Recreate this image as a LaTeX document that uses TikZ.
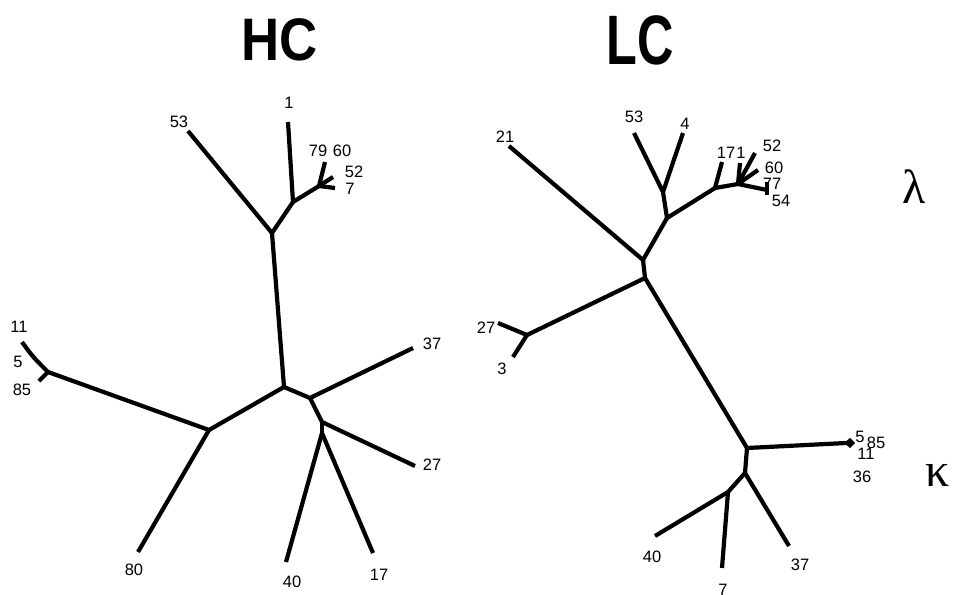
\documentclass[tikz,border=0pt]{standalone}
\usepackage{fontspec}
\setmainfont{Liberation Sans}
\newfontfamily\greekfont{Liberation Serif}
\begin{document}
\begin{tikzpicture}[x=1pt,y=-1pt,
  branch/.style={line width=4.2pt, line cap=butt, line join=round},
  lbl/.style={font=\fontsize{16.5}{16.5}\selectfont, inner sep=0pt},
  title/.style={font=\fontsize{60}{60}\selectfont\bfseries, inner sep=0pt},
  greek/.style={font=\fontsize{48}{48}\selectfont\greekfont, inner sep=0pt}]
\useasboundingbox (0,0) rectangle (955,594);
% ---------------- HC tree ----------------
\coordinate (h53) at (188,131);
\coordinate (hA) at (272,233);
\coordinate (hB) at (293,202);
\coordinate (h1) at (288,122);
\coordinate (hC) at (319,186);
\coordinate (h7960) at (325,162);
\coordinate (h52) at (333,177);
\coordinate (h7) at (335,188);
\coordinate (hD) at (284,387);
\coordinate (hE) at (209,430);
\coordinate (hF) at (48,372);
\coordinate (h11m) at (33,357);
\coordinate (h11) at (22,342);
\coordinate (h85) at (39,381);
\coordinate (h80) at (138,552);
\coordinate (hG) at (310,398);
\coordinate (h37) at (413,348);
\coordinate (hH) at (322,422);
\coordinate (h27) at (415,466);
\coordinate (hI) at (322,433);
\coordinate (h40) at (286,562);
\coordinate (h17) at (373,553);
\draw[branch] (hA) -- (h53);
\draw[branch] (hA) -- (hB);
\draw[branch] (hB) -- (h1);
\draw[branch] (hB) -- (hC);
\draw[branch] (hC) -- (h7960);
\draw[branch] (hC) -- (h52);
\draw[branch] (hC) -- (h7);
\draw[branch] (hA) -- (hD);
\draw[branch] (hD) -- (hE);
\draw[branch] (hE) -- (hF);
\draw[branch] (hF) .. controls (h11m) .. (h11);
\draw[branch] (hF) -- (h85);
\draw[branch] (hE) -- (h80);
\draw[branch] (hD) -- (hG);
\draw[branch] (hG) -- (h37);
\draw[branch] (hG) -- (hH);
\draw[branch] (hH) -- (h27);
\draw[branch] (hH) -- (hI);
\draw[branch] (hI) -- (h40);
\draw[branch] (hI) -- (h17);
\node[lbl] (t53) at (179,122) {53};
\node[lbl] (t1) at (289,103) {1};
\node[lbl] (t79) at (318,151) {79};
\node[lbl] (t60) at (342,151) {60};
\node[lbl] (t52) at (354,172) {52};
\node[lbl] (t7) at (350,189) {7};
\node[lbl] (t11) at (19,327) {11};
\node[lbl] (t5) at (18,362) {5};
\node[lbl] (t85) at (22,390) {85};
\node[lbl] (t80) at (134,570) {80};
\node[lbl] (t37) at (432,344) {37};
\node[lbl] (t27) at (432,465) {27};
\node[lbl] (t40) at (292,582) {40};
\node[lbl] (t17) at (379,575) {17};
% ---------------- LC tree ----------------
\coordinate (l21) at (509,146);
\coordinate (l53) at (634,133);
\coordinate (l4) at (683,133);
\coordinate (lJ1) at (663,192);
\coordinate (lJ2) at (667,218);
\coordinate (lJ3) at (643,260);
\coordinate (lJ4) at (645,278);
\coordinate (lJ5) at (715,188);
\coordinate (l17) at (722,162);
\coordinate (lJ6) at (738,184);
\coordinate (l1) at (740,163);
\coordinate (l52) at (755,153);
\coordinate (l60) at (758,170);
\coordinate (lJ7) at (767,190);
\coordinate (l77) at (767,182);
\coordinate (l54) at (767,195);
\coordinate (lJ8) at (527,335);
\coordinate (l27) at (498,323);
\coordinate (l3) at (513,357);
\coordinate (lJ9) at (747,448);
\coordinate (l585) at (846,443);
\coordinate (lJ10) at (745,473);
\coordinate (lJ11) at (728,492);
\coordinate (l37) at (789,546);
\coordinate (l40) at (655,536);
\coordinate (l7) at (722,568);
\draw[branch] (lJ3) -- (l21);
\draw[branch] (lJ1) -- (l53);
\draw[branch] (lJ1) -- (l4);
\draw[branch] (lJ1) -- (lJ2);
\draw[branch] (lJ2) -- (lJ3);
\draw[branch] (lJ3) -- (lJ4);
\draw[branch] (lJ2) -- (lJ5);
\draw[branch] (lJ5) -- (l17);
\draw[branch] (lJ5) -- (lJ6);
\draw[branch] (lJ6) -- (l1);
\draw[branch] (lJ6) -- (l52);
\draw[branch] (lJ6) -- (l60);
\draw[branch] (lJ6) -- (lJ7);
\draw[branch] (l77) -- (l54);
\draw[branch] (lJ4) -- (lJ8);
\draw[branch] (lJ8) -- (l27);
\draw[branch] (lJ8) -- (l3);
\draw[branch] (lJ4) -- (lJ9);
\draw[branch] (lJ9) -- (l585);
\fill (l585) ++(-2,0) -- ++(6,-5) -- ++(5,5) -- ++(-5,5) -- cycle;
\draw[branch] (lJ9) -- (lJ10);
\draw[branch] (lJ10) -- (lJ11);
\draw[branch] (lJ10) -- (l37);
\draw[branch] (lJ11) -- (l40);
\draw[branch] (lJ11) -- (l7);
\node[lbl] (u21) at (505,137) {21};
\node[lbl] (u53) at (634,117) {53};
\node[lbl] (u4) at (685,124) {4};
\node[lbl] (u17) at (726,153) {17};
\node[lbl] (u1) at (741,153) {1};
\node[lbl] (u52) at (772,146) {52};
\node[lbl] (u60) at (774,168) {60};
\node[lbl] (u77) at (772,184) {77};
\node[lbl] (u54) at (781,201) {54};
\node[lbl] (u27) at (486,328) {27};
\node[lbl] (u3) at (502,369) {3};
\node[lbl] (u5) at (860,437) {5};
\node[lbl] (u85) at (876,443) {85};
\node[lbl] (u11) at (866,454) {11};
\node[lbl] (u36) at (862,477) {36};
\node[lbl] (u40) at (652,557) {40};
\node[lbl] (u37) at (800,565) {37};
\node[lbl] (u7) at (723,590) {7};
% ---------------- titles ----------------
\node[title, xscale=0.88] (hc) at (280,40) {HC};
\node[title, font=\fontsize{70}{70}\selectfont\bfseries, xscale=0.72] (lc) at (640,40) {LC};
\node[greek] (lam) at (914,187) {λ};
\node[greek] (kap) at (938,475) {κ};
\end{tikzpicture}
\end{document}
